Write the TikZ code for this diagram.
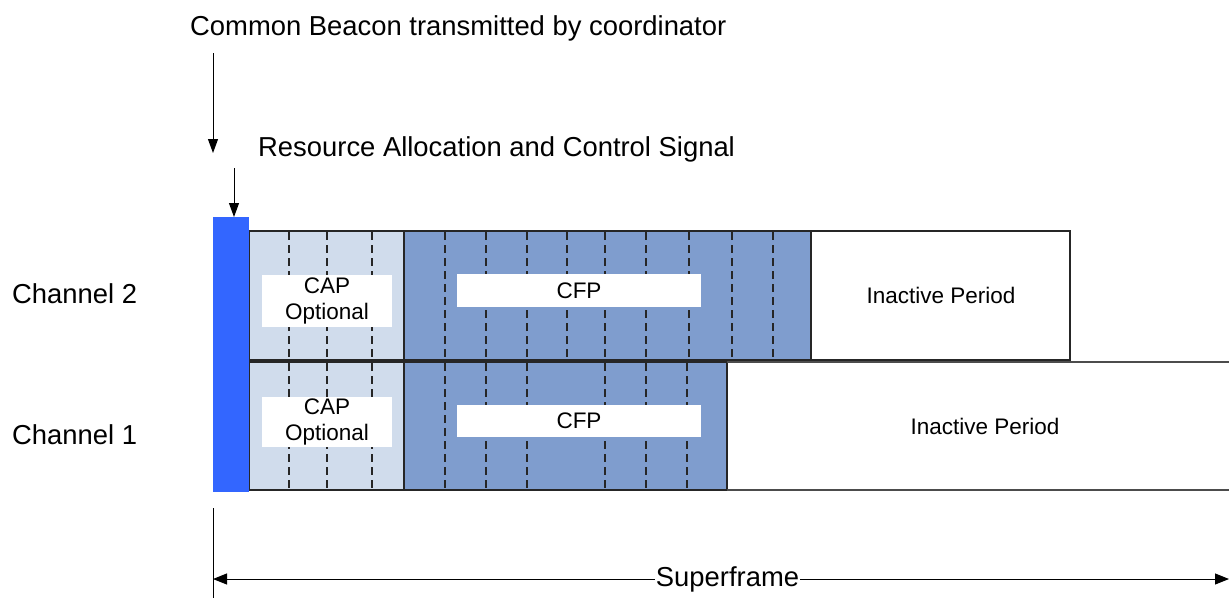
\documentclass[tikz,border=0pt]{standalone}
\usepackage{fontspec}
\setmainfont{Liberation Sans}
\usetikzlibrary{arrows.meta}
\definecolor{capfill}{HTML}{D0DCEC}
\definecolor{cfpfill}{HTML}{7F9DCE}
\definecolor{beacon}{HTML}{3366FF}
\begin{document}
\begin{tikzpicture}[x=1pt,y=-1pt,
  box/.style={draw=black!85, line width=1.2pt, inner sep=0pt, outer sep=0pt, anchor=north west},
  slot/.style={draw=black!85, line width=1.1pt, dash pattern=on 8pt off 5pt},
  lbl/.style={fill=white, inner sep=0pt, font=\fontsize{22.5}{26.5}\selectfont, align=center},
  bigtext/.style={inner sep=0pt, font=\fontsize{27.4}{31}\selectfont},
  arr/.style={-{Triangle[length=14pt,width=10pt]}, line width=1pt}]
\useasboundingbox (0,0) rectangle (1229,598);

% channel 2
\node[box, fill=capfill, minimum width=155pt, minimum height=129pt] (cap2) at (249,231) {};
\node[box, fill=cfpfill, minimum width=407pt, minimum height=129pt] (cfp2) at (404,231) {};
\node[box, fill=white, minimum width=259pt, minimum height=129pt] (ina2) at (811,231) {};
% channel 1
\node[box, fill=capfill, minimum width=155pt, minimum height=128pt] (cap1) at (249,362) {};
\node[box, fill=cfpfill, minimum width=323pt, minimum height=128pt] (cfp1) at (404,362) {};
\draw[draw=black!70, line width=1.2pt] (cfp1.north east) -- (1229,362);
\draw[draw=black!70, line width=1.2pt] (cfp1.south east) -- (1229,490);

% slot boundaries
\foreach \x in {289,327,372} {
  \draw[slot] (\x,232) -- (\x,359);
  \draw[slot] (\x,363) -- (\x,489);
}
\foreach \x in {445,486,527,567,605,646,689,732,773}
  \draw[slot] (\x,232) -- (\x,359);
\foreach \x in {445,486,527,605,646,687}
  \draw[slot] (\x,363) -- (\x,489);

% labels inside
\node[lbl, minimum width=130pt, minimum height=52pt] (capl2) at (327,301) {CAP\\Optional};
\node[lbl, minimum width=244pt, minimum height=33pt] (cfpl2) at (579,290.5) {CFP};
\node[inner sep=0pt, font=\fontsize{22.5}{26.5}\selectfont] (inal2) at (941,295) {Inactive Period};
\node[lbl, minimum width=130pt, minimum height=50pt] (capl1) at (327,422) {CAP\\Optional};
\node[lbl, minimum width=244pt, minimum height=32pt] (cfpl1) at (579,421) {CFP};
\node[inner sep=0pt, font=\fontsize{22.5}{26.5}\selectfont] (inal1) at (985,426) {Inactive Period};

% beacon bar
\node[box, draw=none, fill=beacon, minimum width=36pt, minimum height=275pt] (bar) at (213,217) {};

% channel labels
\node[bigtext, anchor=west] (ch2) at (12,294) {Channel 2};
\node[bigtext, anchor=west] (ch1) at (12,435) {Channel 1};

% top annotations
\node[bigtext, anchor=west] (beac) at (190,28) {Common Beacon transmitted by coordinator};
\coordinate (b1) at (213,53);
\coordinate (b2) at (213,153);
\draw[arr] (b1) -- (b2);
\node[bigtext, anchor=west] (ras) at (258,149) {Resource Allocation and Control Signal};
\coordinate (r1) at (234,168);
\draw[arr] (r1) -- (bar.north -| r1);

% superframe
\coordinate (sv1) at (213,508);
\coordinate (sv2) at (213,598);
\draw[line width=1pt] (sv1) -- (sv2);
\coordinate (sfL) at (213,579);
\coordinate (sfR) at (1229,579);
\draw[{Triangle[length=14pt,width=11pt]}-{Triangle[length=14pt,width=11pt]}, line width=1pt] (sfL) -- (sfR);
\node[bigtext, fill=white, inner xsep=1pt] (sf) at (727.5,579) {Superframe};
\end{tikzpicture}
\end{document}
